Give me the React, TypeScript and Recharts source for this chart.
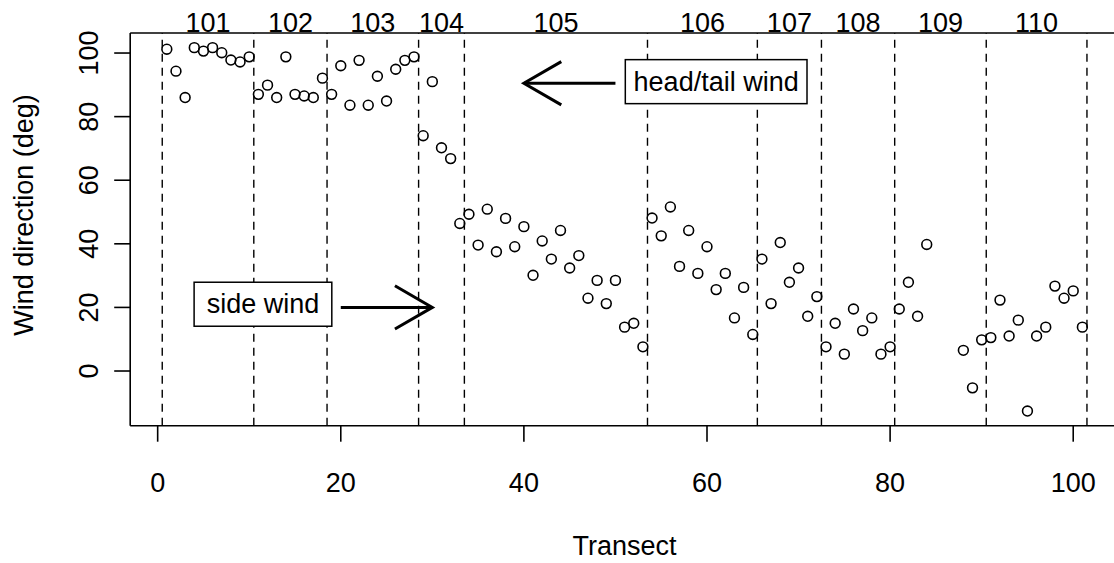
import React from "react";
import { ScatterChart, Scatter, XAxis, YAxis, ReferenceLine, ReferenceDot, Label } from "recharts";

// transect number and measured wind direction (deg)
const transect = [
  1, 2, 3, 4, 5, 6, 7, 8, 9, 10, 11, 12, 13, 14, 15, 16, 17, 18, 19, 20,
  21, 22, 23, 24, 25, 26, 27, 28, 29, 30, 31, 32, 33, 34, 35, 36, 37, 38, 39, 40,
  41, 42, 43, 44, 45, 46, 47, 48, 49, 50, 51, 52, 53, 54, 55, 56, 57, 58, 59, 60,
  61, 62, 63, 64, 65, 66, 67, 68, 69, 70, 71, 72, 73, 74, 75, 76, 77, 78, 79, 80,
  81, 82, 83, 84, 88, 89, 90, 91, 92, 93, 94, 95, 96, 97, 98, 99, 100, 101,
];
const windDir = [
  101.2, 94.3, 86, 101.7, 100.6, 101.7, 100.1, 97.8, 97.2, 98.8, 87, 89.9, 86, 98.8, 87, 86.5, 86, 92.1, 87, 96,
  83.6, 97.7, 83.6, 92.7, 84.9, 94.9, 97.7, 98.8, 74, 91, 70.2, 66.8, 46.4, 49.3, 39.6, 50.9, 37.5, 48, 39.1, 45.4,
  30.1, 40.9, 35.2, 44.2, 32.4, 36.3, 22.9, 28.5, 21.2, 28.5, 13.8, 15, 7.6, 48.1, 42.5, 51.6, 32.9, 44.2, 30.7, 39.1,
  25.6, 30.7, 16.7, 26.3, 11.5, 35.2, 21.2, 40.4, 27.9, 32.4, 17.2, 23.4, 7.6, 15, 5.3, 19.5, 12.7, 16.7, 5.3, 7.6,
  19.5, 27.9, 17.2, 39.8, 6.5, -5.3, 9.8, 10.5, 22.3, 11, 16, -12.6, 11, 13.8, 26.7, 22.9, 25.2, 13.8,
];

// line section boundaries and names
const sectionBreaks = [0.5, 10.5, 18.5, 28.5, 33.5, 53.5, 65.5, 72.5, 80.5, 90.5, 101.5];
const sectionNames = ["101", "102", "103", "104", "105", "106", "107", "108", "109", "110"];

const xTicks = [0, 20, 40, 60, 80, 100];
const yTicks = [0, 20, 40, 60, 80, 100];

// annotations: [x, y] in data units
const headTailLabel = [61, 91];
const headTailArrow = [[50, 90.5], [40, 90.5]];
const sideLabel = [11.5, 21];
const sideArrow = [[20, 20], [30, 20]];

const points = transect.map((t, i) => ({ x: t, y: windDir[i] }));
const sectionMids = sectionNames.map((_, i) => (sectionBreaks[i] + sectionBreaks[i + 1]) / 2);

const FONT = '"Liberation Sans", Arial, Helvetica, sans-serif';
const FS = 27;
const INK = "#000";

const TopTick = (p: any) => {
  const i = sectionMids.indexOf(p.payload.value);
  return (
    <text x={p.x} y={p.y - 1.3} textAnchor="middle" fontFamily={FONT} fontSize={FS} fill={INK}>
      {sectionNames[i]}
    </text>
  );
};

const BottomTick = (p: any) => (
  <text x={p.x} y={p.y + 50.3} textAnchor="middle" fontFamily={FONT} fontSize={FS} fill={INK}>
    {p.payload.value}
  </text>
);

const LeftTick = (p: any) => {
  const bx = p.x - 16;
  return (
    <text x={bx} y={p.y} transform={`rotate(-90, ${bx}, ${p.y})`} textAnchor="middle" fontFamily={FONT} fontSize={FS} fill={INK}>
      {p.payload.value}
    </text>
  );
};

const XTitle = (p: any) => {
  const vb = p.viewBox;
  return (
    <text x={vb.x + vb.width / 2} y={vb.y + 129.3} textAnchor="middle" fontFamily={FONT} fontSize={FS} fill={INK}>
      Transect
    </text>
  );
};

const YTitle = (p: any) => {
  const vb = p.viewBox;
  const tx = vb.x + 33.5;
  const ty = vb.y + vb.height / 2 - 14.4;
  return (
    <text x={tx} y={ty} transform={`rotate(-90, ${tx}, ${ty})`} textAnchor="middle" fontFamily={FONT} fontSize={FS} fill={INK}>
      Wind direction (deg)
    </text>
  );
};

const Ring = (p: any) => <circle cx={p.cx} cy={p.cy} r={4.9} fill="none" stroke={INK} strokeWidth={1.6} />;

// dir 1: wings open to the right (arrow points left)
const arrowHead = (dir: number) => (p: any) => (
  <polyline
    points={`${p.cx + dir * 37.4},${p.cy - 21.6} ${p.cx},${p.cy} ${p.cx + dir * 37.4},${p.cy + 21.6}`}
    fill="none"
    stroke={INK}
    strokeWidth={3}
  />
);

const boxLabel = (text: string, w: number) => (p: any) => (
  <g>
    <rect x={p.cx - w / 2} y={p.cy - 22} width={w} height={44} fill="#fff" stroke={INK} strokeWidth={1.5} />
    <text x={p.cx} y={p.cy + 9} textAnchor="middle" fontFamily={FONT} fontSize={FS} fill={INK}>
      {text}
    </text>
  </g>
);

export default function App() {
  const axisStroke = { stroke: INK, strokeWidth: 1.6 };
  return (
    <div style={{ position: "fixed", left: 0, top: 0, width: 1114, height: 563, overflow: "hidden", background: "#fff" }}>
      <ScatterChart width={1135} height={563} margin={{ top: 0, right: 16, bottom: 0, left: 0 }}>
        <XAxis
          xAxisId="top"
          orientation="top"
          type="number"
          dataKey="x"
          domain={[-3, 105]}
          allowDataOverflow
          ticks={sectionMids}
          interval={0}
          tickLine={false}
          tickSize={0}
          tickMargin={0}
          height={33}
          axisLine={axisStroke}
          tick={TopTick}
        />
        <XAxis
          type="number"
          dataKey="x"
          domain={[-3, 105]}
          allowDataOverflow
          ticks={xTicks}
          interval={0}
          tickSize={16}
          tickMargin={0}
          height={137.3}
          axisLine={axisStroke}
          tickLine={axisStroke}
          tick={BottomTick}
        >
          <Label content={XTitle} />
        </XAxis>
        <YAxis
          type="number"
          dataKey="y"
          domain={[-17.2, 106.3]}
          allowDataOverflow
          ticks={yTicks}
          interval={0}
          tickSize={16}
          tickMargin={0}
          width={130.2}
          axisLine={axisStroke}
          tickLine={axisStroke}
          tick={LeftTick}
        >
          <Label content={YTitle} />
        </YAxis>
        {sectionBreaks.map((b) => (
          <ReferenceLine key={b} x={b} stroke={INK} strokeWidth={1.4} strokeDasharray="8 6" />
        ))}
        <Scatter data={points} shape={Ring} isAnimationActive={false} />
        <ReferenceLine
          segment={[
            { x: headTailArrow[0][0], y: headTailArrow[0][1] },
            { x: headTailArrow[1][0], y: headTailArrow[1][1] },
          ]}
          stroke={INK}
          strokeWidth={3}
        />
        <ReferenceDot x={headTailArrow[1][0]} y={headTailArrow[1][1]} shape={arrowHead(1)} />
        <ReferenceLine
          segment={[
            { x: sideArrow[0][0], y: sideArrow[0][1] },
            { x: sideArrow[1][0], y: sideArrow[1][1] },
          ]}
          stroke={INK}
          strokeWidth={3}
        />
        <ReferenceDot x={sideArrow[1][0]} y={sideArrow[1][1]} shape={arrowHead(-1)} />
        <ReferenceDot x={headTailLabel[0]} y={headTailLabel[1]} shape={boxLabel("head/tail wind", 181.7)} />
        <ReferenceDot x={sideLabel[0]} y={sideLabel[1]} shape={boxLabel("side wind", 137.7)} />
      </ScatterChart>
    </div>
  );
}
